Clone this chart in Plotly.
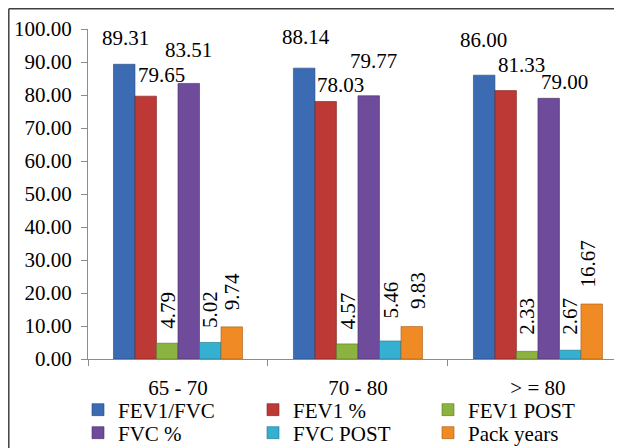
import plotly.graph_objects as go

categories = ["65 - 70", "70 - 80", "> = 80"]
series_names = ["FEV1/FVC", "FEV1 %", "FEV1 POST", "FVC %", "FVC POST", "Pack years"]
fev1_fvc = [89.31, 88.14, 86.00]
fev1_pct = [79.65, 78.03, 81.33]
fev1_post = [4.79, 4.57, 2.33]
fvc_pct = [83.51, 79.77, 79.00]
fvc_post = [5.02, 5.46, 2.67]
pack_years = [9.74, 9.83, 16.67]
y_ticks = [0, 10, 20, 30, 40, 50, 60, 70, 80, 90, 100]

series_values = [fev1_fvc, fev1_pct, fev1_post, fvc_pct, fvc_post, pack_years]

# styles
colors = ["#3A6BB3", "#BC3935", "#8CB23F", "#6F4B9B", "#35B0D0", "#F08A24"]
line_colors = ["#23467A", "#7E2220", "#5A7526", "#46305F", "#217388", "#A55A12"]
label_rotated = [False, False, True, False, True, True]
# pixel offsets of data labels (per series, per category)
label_dx = [[-52.5, -51.5, -54.5], [-16.5, -17.5, -16.5], [-9.5, -10.5, -10.5],
            [10.5, 15.5, 26.5], [32.5, 33.5, 32.5], [53.5, 60, 50.5]]
label_dy = [[26, 31, 35], [21, 16.5, 26], [33, 33, 35],
            [33, 35, 16], [33, 41, 34], [35, 36.5, 40]]

FONT = "Liberation Serif"
FS = 21

fig = go.Figure()
for i, (name, vals) in enumerate(zip(series_names, series_values)):
    fig.add_trace(go.Bar(
        x=categories, y=vals, name=name,
        marker=dict(color=colors[i], line=dict(color=line_colors[i], width=0.6)),
        legend="legend" if i < 3 else "legend2",
        hoverinfo="skip",
    ))

annotations = []
for i, vals in enumerate(series_values):
    for j, v in enumerate(vals):
        annotations.append(dict(
            x=categories[j], y=v, xref="x", yref="y",
            text=f"{v:.2f}", showarrow=False,
            xanchor="center", yanchor="middle",
            xshift=label_dx[i][j], yshift=label_dy[i][j],
            textangle=-90 if label_rotated[i] else 0,
            font=dict(family=FONT, size=FS, color="#000000"),
        ))

# page has an 8px body margin: figure is drawn from page (8, 8)
OFF = 8
W, H = 622 - OFF, 448 - OFF
PL, PT, PB = 88, 29, 359          # plot area in page pixels
L, T = PL - OFF, PT - OFF
B = H - (PB - OFF)
pw, ph = W - L, PB - PT

def px_x(p):
    return (p - PL) / pw

def px_y(p):
    return (PB - p) / ph

shapes = [
    dict(type="line", xref="paper", yref="paper", x0=px_x(8.8), x1=px_x(640),
         y0=px_y(8.8), y1=px_y(8.8), line=dict(color="#404040", width=1.5)),
    dict(type="line", xref="paper", yref="paper", x0=px_x(8.8), x1=px_x(8.8),
         y0=px_y(8.8), y1=px_y(470), line=dict(color="#404040", width=1.5)),
]

legend_common = dict(
    orientation="h", xanchor="left", yanchor="middle",
    entrywidth=130, entrywidthmode="pixels",
    font=dict(family=FONT, size=FS, color="#000000"),
    bgcolor="rgba(0,0,0,0)", itemclick=False, itemdoubleclick=False,
    itemwidth=30,
)

fig.update_layout(
    width=W, height=H,
    margin=dict(l=L, r=0, t=T, b=B, autoexpand=False),
    paper_bgcolor="white", plot_bgcolor="white",
    barmode="group", bargap=0.283, bargroupgap=0,
    showlegend=True,
    legend=dict(x=px_x(78), y=px_y(410), **legend_common),
    legend2=dict(x=px_x(78), y=px_y(433), **legend_common),
    annotations=annotations,
    shapes=shapes,
    xaxis=dict(
        range=[-0.5, 2.467], showgrid=False, zeroline=False,
        showline=True, linecolor="#8C8C8C", linewidth=1.2,
        ticks="outside", tickson="boundaries", ticklen=6, tickcolor="#8C8C8C",
        ticklabelstandoff=10,
        tickfont=dict(family=FONT, size=FS, color="#000000"),
        fixedrange=True,
    ),
    yaxis=dict(
        range=[0, 100], tickvals=y_ticks, tickformat=".2f",
        showgrid=False, zeroline=False,
        showline=True, linecolor="#8C8C8C", linewidth=1.2,
        ticks="outside", ticklen=6, tickcolor="#8C8C8C",
        ticklabelstandoff=5,
        tickfont=dict(family=FONT, size=FS, color="#000000"),
        fixedrange=True,
    ),
)

fig.write_html("out.html")
